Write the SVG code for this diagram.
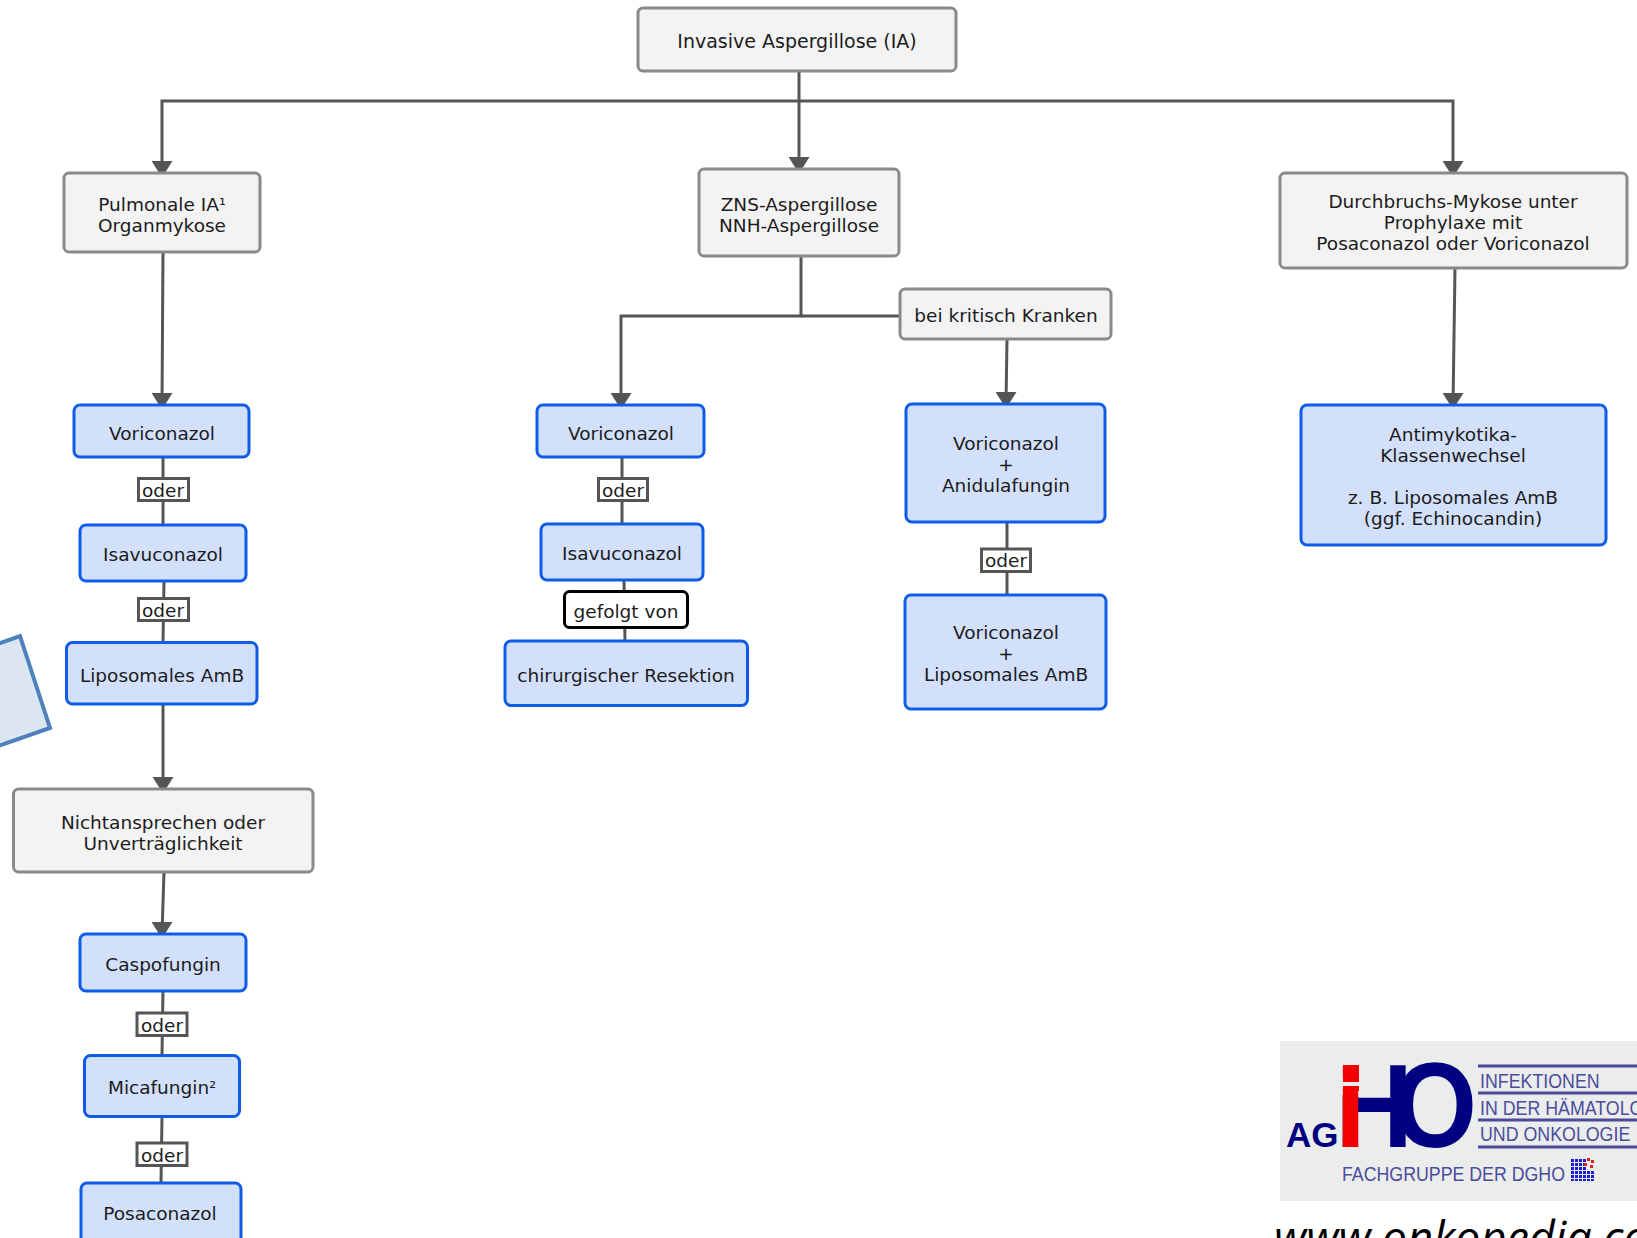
<svg xmlns="http://www.w3.org/2000/svg" width="1637" height="1238" viewBox="0 0 1637 1238">
<defs>
<style>
text{font-family:"DejaVu Sans",Verdana,sans-serif;font-size:18.500px;fill:#1c1c1c;text-anchor:middle}
.g{fill:#f3f3f3;stroke:#8a8a8a;stroke-width:3}
.b{fill:#d2e0fc;stroke:#0f5ce6;stroke-width:3}
.l{fill:#fff;stroke:#555;stroke-width:3}
.k{fill:#fff;stroke:#000;stroke-width:3}
.c{fill:none;stroke:#555;stroke-width:3}
.a{marker-end:url(#ah)}
.s{font-size:17px}
.logo{font-family:"Liberation Sans",Arial,sans-serif;text-anchor:start}
.lt{fill:#4c4c9c;font-size:20px}
.lr{stroke:#4a4a9a;stroke-width:3}
</style>
<marker id="ah" markerUnits="userSpaceOnUse" markerWidth="22" markerHeight="13" refX="10.500" refY="12" orient="0" viewBox="0 0 22 13">
<path d="M0 0H21L14 11 10.500 12 7 11Z" fill="#555"/>
</marker>
</defs>
<rect width="1637" height="1238" fill="#fff"/>
<g id="connectors">
<path class="c" d="M799 71V101"/>
<path class="c a" d="M799 101H162V173"/>
<path class="c a" d="M799 101V169"/>
<path class="c a" d="M799 101H1453V173"/>
<path class="c a" d="M163 252L162 405"/>
<path class="c a" d="M163 704V789"/>
<path class="c a" d="M164 872L162 934"/>
<path class="c a" d="M801 256V316H621V405"/>
<path class="c" d="M801 316H900"/>
<path class="c a" d="M1007 339L1006 404"/>
<path class="c a" d="M1455 268L1453 405"/>
<path class="c" d="M163 458V525"/>
<path class="c" d="M164 581L163 642"/>
<path class="c" d="M163 991L162 1055"/>
<path class="c" d="M162 1117L161 1183"/>
<path class="c" d="M622 458V524"/>
<path class="c" d="M624 580L625 641"/>
<path class="c" d="M1007 522V594"/>
</g>
<g id="shape-tilted"><polygon points="-5,645 20,636 50,728 -5,747" fill="#dce6f2" stroke="#4f81bd" stroke-width="4"/></g>
<g id="n-invasive"><rect class="g" x="638" y="8" width="318" height="63" rx="5"/><text x="797" y="47.500" style="font-size:19px">Invasive Aspergillose (IA)</text></g>
<g id="n-pulmonale"><rect class="g" x="64" y="173" width="196" height="79" rx="5"/><text x="162" y="211">Pulmonale IA<tspan class="s">¹</tspan></text><text x="162" y="232">Organmykose</text></g>
<g id="n-zns"><rect class="g" x="699" y="169" width="200" height="87" rx="5"/><text x="799" y="211">ZNS-Aspergillose</text><text x="799" y="232">NNH-Aspergillose</text></g>
<g id="n-durch"><rect class="g" x="1280" y="173" width="347" height="95" rx="5"/><text x="1453" y="208">Durchbruchs-Mykose unter</text><text x="1453" y="229">Prophylaxe mit</text><text x="1453" y="250">Posaconazol oder Voriconazol</text></g>
<g id="n-kritisch"><rect class="g" x="900" y="289" width="211" height="50" rx="5"/><text x="1006" y="322">bei kritisch Kranken</text></g>
<g id="n-vori1"><rect class="b" x="74" y="405" width="175" height="52" rx="6"/><text x="162" y="440">Voriconazol</text></g>
<g id="l-oder1"><rect class="l" x="138.500" y="478.500" width="50" height="22"/><text x="163" y="497">oder</text></g>
<g id="n-isa1"><rect class="b" x="80" y="525" width="166" height="56" rx="6"/><text x="163" y="561">Isavuconazol</text></g>
<g id="l-oder2"><rect class="l" x="138.500" y="598.500" width="50" height="22"/><text x="163" y="617">oder</text></g>
<g id="n-lipo1"><rect class="b" x="66.500" y="642.500" width="190.500" height="61.500" rx="6"/><text x="162" y="682">Liposomales AmB</text></g>
<g id="n-nicht"><rect class="g" x="13.500" y="789" width="299.500" height="83" rx="5"/><text x="163" y="829">Nichtansprechen oder</text><text x="163" y="850">Unverträglichkeit</text></g>
<g id="n-caspo"><rect class="b" x="80" y="934" width="166" height="57" rx="6"/><text x="163" y="971">Caspofungin</text></g>
<g id="l-oder3"><rect class="l" x="137" y="1013" width="50" height="22.500"/><text x="162" y="1032">oder</text></g>
<g id="n-mica"><rect class="b" x="84.500" y="1055.500" width="155" height="61" rx="6"/><text x="162" y="1094">Micafungin<tspan class="s">²</tspan></text></g>
<g id="l-oder4"><rect class="l" x="137" y="1143" width="50" height="22.500"/><text x="162" y="1162">oder</text></g>
<g id="n-posa"><rect class="b" x="81" y="1183" width="160" height="70" rx="6"/><text x="160" y="1220">Posaconazol</text></g>
<g id="n-vori2"><rect class="b" x="537" y="405" width="167" height="52" rx="6"/><text x="621" y="440">Voriconazol</text></g>
<g id="l-oder5"><rect class="l" x="598.500" y="478.500" width="49" height="22"/><text x="623" y="497">oder</text></g>
<g id="n-isa2"><rect class="b" x="541" y="524" width="162" height="56" rx="6"/><text x="622" y="560">Isavuconazol</text></g>
<g id="l-gefolgt"><rect class="k" x="564.500" y="591.500" width="123" height="36" rx="5"/><text x="626" y="618">gefolgt von</text></g>
<g id="n-chir"><rect class="b" x="505" y="641" width="242.500" height="64.500" rx="6"/><text x="626" y="682">chirurgischer Resektion</text></g>
<g id="n-vori3"><rect class="b" x="906" y="404" width="199" height="118" rx="6"/><text x="1006" y="450">Voriconazol</text><text x="1006" y="471">+</text><text x="1006" y="492">Anidulafungin</text></g>
<g id="l-oder6"><rect class="l" x="981.500" y="549" width="49" height="22.500"/><text x="1006" y="567">oder</text></g>
<g id="n-vori4"><rect class="b" x="905" y="595" width="201" height="114" rx="6"/><text x="1006" y="639">Voriconazol</text><text x="1006" y="660">+</text><text x="1006" y="681">Liposomales AmB</text></g>
<g id="n-anti"><rect class="b" x="1301" y="405" width="305" height="140" rx="6"/><text x="1453" y="441">Antimykotika-</text><text x="1453" y="462">Klassenwechsel</text><text x="1453" y="504">z. B. Liposomales AmB</text><text x="1453" y="525">(ggf. Echinocandin)</text></g>
<g id="logo">
<rect x="1280" y="1041" width="357" height="160" fill="#ebecec"/>
<text class="logo" x="1286" y="1147" style="font-size:35px;font-weight:bold;fill:#000080">AG</text>
<text class="logo" transform="translate(1335.500 1147) scale(.9 1)" style="font-size:119px;font-weight:bold;fill:#000080">H</text>
<rect x="1342" y="1060" width="18" height="35" fill="#ebecec"/>
<text class="logo" transform="translate(1335 1147)" style="font-size:112px;font-weight:bold;fill:#f40000">i</text>
<rect x="1343" y="1065" width="16" height="17" fill="#f40000"/>
<rect x="1343" y="1086" width="16" height="5" fill="#f40000"/>
<text class="logo" transform="translate(1393 1147) scale(.9 1)" style="font-size:120px;font-weight:bold;fill:#000080">O</text>
<path class="lr" d="M1478 1066H1637M1478 1093H1637M1478 1120H1637M1478 1147H1637"/>
<text class="logo lt" transform="translate(1480 1088) scale(.89 1)">INFEKTIONEN</text>
<text class="logo lt" transform="translate(1480 1114.500) scale(.89 1)">IN DER HÄMATOLOGIE</text>
<text class="logo lt" transform="translate(1480 1141) scale(.89 1)">UND ONKOLOGIE</text>
<text class="logo lt" x="1342" y="1181" style="font-size:19.500px" textLength="223" lengthAdjust="spacingAndGlyphs">FACHGRUPPE DER DGHO</text>
<g fill="#1a1ae0"><rect x="1571" y="1159" width="15" height="22"/><rect x="1586" y="1170" width="8" height="11"/></g>
<g fill="#ebecec"><rect x="1574" y="1159" width="1" height="22"/><rect x="1578" y="1159" width="1" height="22"/><rect x="1582" y="1159" width="1" height="22"/><rect x="1586" y="1159" width="1" height="22"/><rect x="1590" y="1159" width="1" height="22"/><rect x="1571" y="1162" width="23" height="1"/><rect x="1571" y="1166" width="23" height="1"/><rect x="1571" y="1170" width="23" height="1"/><rect x="1571" y="1174" width="23" height="1"/><rect x="1571" y="1178" width="23" height="1"/></g>
<g fill="#e02020"><rect x="1587" y="1158" width="3" height="3"/><rect x="1591" y="1160" width="3" height="3"/><rect x="1584" y="1163" width="3" height="3"/><rect x="1590" y="1165" width="3" height="3"/></g>
</g>
<g id="url"><text x="1274" y="1254" style="font-family:'Open Sans',sans-serif;font-style:italic;font-size:45px;fill:#000;text-anchor:start">www.onkopedia.com</text></g>
</svg>
